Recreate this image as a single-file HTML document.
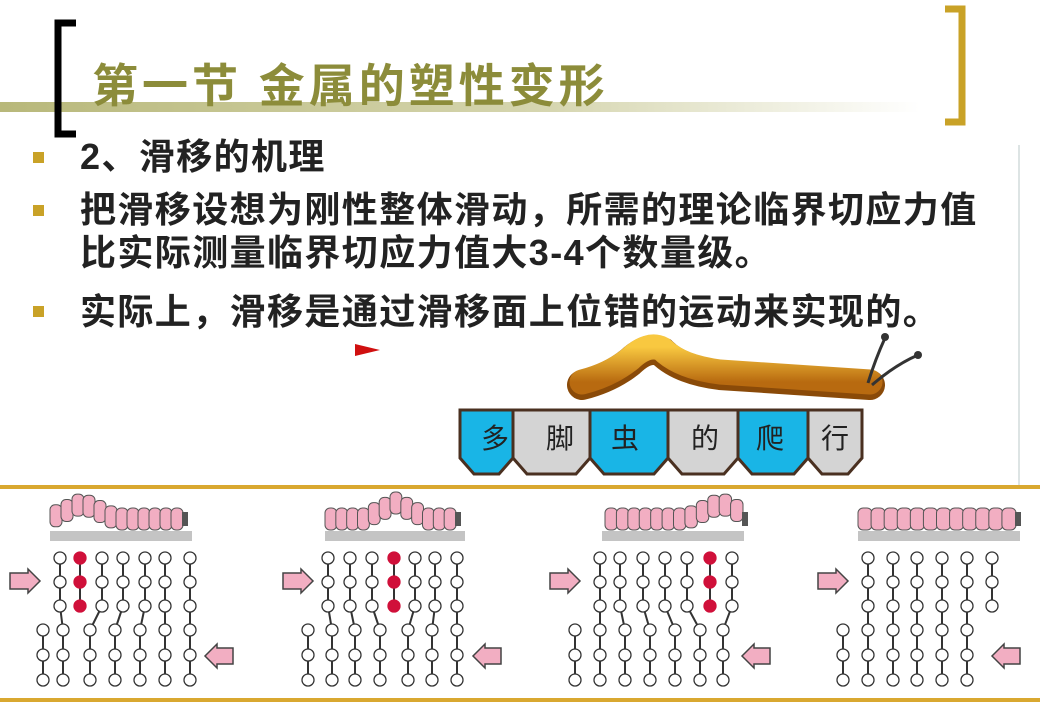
<!DOCTYPE html>
<html><head><meta charset="utf-8"><style>
body{margin:0;width:1040px;height:720px;background:#fff;overflow:hidden;position:relative;font-family:"Liberation Sans","Noto Sans CJK SC",sans-serif}
.t{position:absolute;left:80px;font-weight:bold;font-size:36px;letter-spacing:1.4px;color:#222;white-space:nowrap;line-height:42px}
.b{position:absolute;left:33px;width:11px;height:11px;background:#c9a227}
</style></head><body>
<svg width="1040" height="720" style="position:absolute;left:0;top:0">
<defs><linearGradient id="g" x1="0" x2="1"><stop offset="0" stop-color="#b8b87a"/><stop offset="0.6" stop-color="#d6d6b0"/><stop offset="1" stop-color="#fff"/></linearGradient>
<linearGradient id="o" x1="0" y1="0" x2="0" y2="1"><stop offset="0" stop-color="#f8c840"/><stop offset="1" stop-color="#b86a10"/></linearGradient></defs>
<rect x="0" y="102" width="920" height="10" fill="url(#g)"/>
<path d="M76 23 H58 V134 H76" fill="none" stroke="#000" stroke-width="7"/>
<path d="M945 9 H962 V122 H945" fill="none" stroke="#c9a227" stroke-width="7"/>
<line x1="1019" y1="145" x2="1019" y2="485" stroke="#dde4e4" stroke-width="2"/>
<rect x="0" y="485" width="1040" height="4" fill="#d9a830"/>
<rect x="0" y="698" width="1040" height="4" fill="#d9a830"/>
<polygon points="355,344 380,350 355,356" fill="#d01010"/>
<path d="M582 385 Q610 378 630 362 Q648 345 662 352 Q680 370 720 375 L870 385" fill="none" stroke="#8a4a08" stroke-width="30" stroke-linecap="round"/>
<path d="M582 382 Q610 375 630 359 Q648 342 662 349 Q680 367 720 372 L870 382" fill="none" stroke="url(#o)" stroke-width="25" stroke-linecap="round"/>
<path d="M868 383 Q875 360 885 338 M872 385 Q895 365 918 355" fill="none" stroke="#333" stroke-width="3"/>
<circle cx="885" cy="337" r="4" fill="#333"/><circle cx="918" cy="355" r="4" fill="#333"/>
<g id="blk"></g>
<g id="lat"></g>
</svg>
<div style="position:absolute;left:92px;top:50px;font-size:46px;font-weight:bold;color:#8c8c3a;letter-spacing:4px;white-space:nowrap;font-family:'Liberation Sans','Noto Sans CJK SC',sans-serif">第一节 金属的塑性变形</div>
<div class="b" style="top:152px"></div><div class="t" style="top:136px">2、滑移的机理</div>
<div class="b" style="top:205px"></div><div class="t" style="top:189px">把滑移设想为刚性整体滑动，所需的理论临界切应力值</div>
<div class="t" style="top:232px">比实际测量临界切应力值大3-4个数量级。</div>
<div class="b" style="top:306px"></div><div class="t" style="top:291px">实际上，滑移是通过滑移面上位错的运动来实现的。</div>
<script>
var ns="http://www.w3.org/2000/svg";
function el(p,t,a){var e=document.createElementNS(ns,t);for(var k in a)e.setAttribute(k,a[k]);p.appendChild(e);return e;}
var B=document.getElementById('blk');
var bx=[[460,513,'#19b5e6','多',495],[513,590,'#d4d4d4','脚',560],[590,668,'#19b5e6','虫',625],[668,738,'#d4d4d4','的',705],[738,808,'#19b5e6','爬',770],[808,862,'#d4d4d4','行',835]];
bx.forEach(function(b){var x0=b[0],x1=b[1];
el(B,'polygon',{points:x0+',410 '+x1+',410 '+x1+',458 '+(x1-14)+',474 '+(x0+14)+',474 '+x0+',458',fill:b[2],stroke:'#4a3020','stroke-width':3});
var t=el(B,'text',{x:b[4],y:448,'font-size':28,'text-anchor':'middle',fill:'#222','font-family':'Liberation Sans,Noto Sans CJK SC,sans-serif'});t.textContent=b[3];});
var L=document.getElementById('lat');
var P=[
{top:[60,80,102,123,145,165,190],bot:[43,63,90,115,140,165,190],red:1,lk:[[0,1],[2,2],[3,3],[4,4],[5,5],[6,6]],ra:10,la:205,cat:[50,192],bar:[50,192],hump:0.2},
{top:[328,350,372,394,415,435,457],bot:[308,332,355,380,408,432,457],red:3,lk:[[0,1],[1,2],[2,3],[4,4],[5,5],[6,6]],ra:283,la:473,cat:[325,465],bar:[325,465],hump:0.5},
{top:[600,620,643,665,687,710,732],bot:[575,600,625,650,675,700,723],red:5,lk:[[0,1],[1,2],[2,3],[3,4],[4,5],[6,6]],ra:550,la:742,cat:[605,752],bar:[602,744],hump:0.8},
{top:[868,893,917,942,967,992],bot:[843,868,893,917,942,967],red:-1,lk:[[0,1],[1,2],[2,3],[3,4],[4,5]],ra:818,la:992,cat:[858,1025],bar:[858,1020],hump:-1}];
var ty=[558,582,606],by=[630,655,680];
P.forEach(function(p){
el(L,'rect',{x:p.bar[0],y:531,width:p.bar[1]-p.bar[0],height:10,fill:'#c4c4c4'});
var n=12,w=(p.cat[1]-p.cat[0]-10)/n;
for(var i=0;i<n;i++){var cx=p.cat[0]+i*w;var d=p.hump<0?0:Math.max(0,1-Math.abs(i/n-p.hump)*4)*16;
el(L,'rect',{x:cx,y:508-d,width:w+1,height:22,rx:5,fill:'#f2aec2',stroke:'#555','stroke-width':1});}
el(L,'rect',{x:p.cat[0]+n*w,y:512,width:6,height:14,fill:'#555'});
el(L,'polygon',{points:(p.ra)+',573 '+(p.ra+18)+',573 '+(p.ra+18)+',569 '+(p.ra+30)+',581 '+(p.ra+18)+',593 '+(p.ra+18)+',589 '+p.ra+',589',fill:'#f2aec2',stroke:'#444','stroke-width':1.5});
el(L,'polygon',{points:(p.la+28)+',648 '+(p.la+12)+',648 '+(p.la+12)+',644 '+p.la+',656 '+(p.la+12)+',668 '+(p.la+12)+',664 '+(p.la+28)+',664',fill:'#f2aec2',stroke:'#444','stroke-width':1.5});
p.top.forEach(function(x){el(L,'line',{x1:x,y1:ty[0],x2:x,y2:ty[2],stroke:'#333','stroke-width':2});});
p.bot.forEach(function(x){el(L,'line',{x1:x,y1:by[0],x2:x,y2:by[2],stroke:'#333','stroke-width':2});});
p.lk.forEach(function(l){el(L,'line',{x1:p.top[l[0]],y1:ty[2],x2:p.bot[l[1]],y2:by[0],stroke:'#333','stroke-width':2});});
p.top.forEach(function(x,i){ty.forEach(function(y){el(L,'circle',{cx:x,cy:y,r:6,fill:i==p.red?'#d0103a':'#fff',stroke:i==p.red?'#d0103a':'#333','stroke-width':1.3});});});
p.bot.forEach(function(x){by.forEach(function(y){el(L,'circle',{cx:x,cy:y,r:6,fill:'#fff',stroke:'#333','stroke-width':1.3});});});
});
</script>
</body></html>
